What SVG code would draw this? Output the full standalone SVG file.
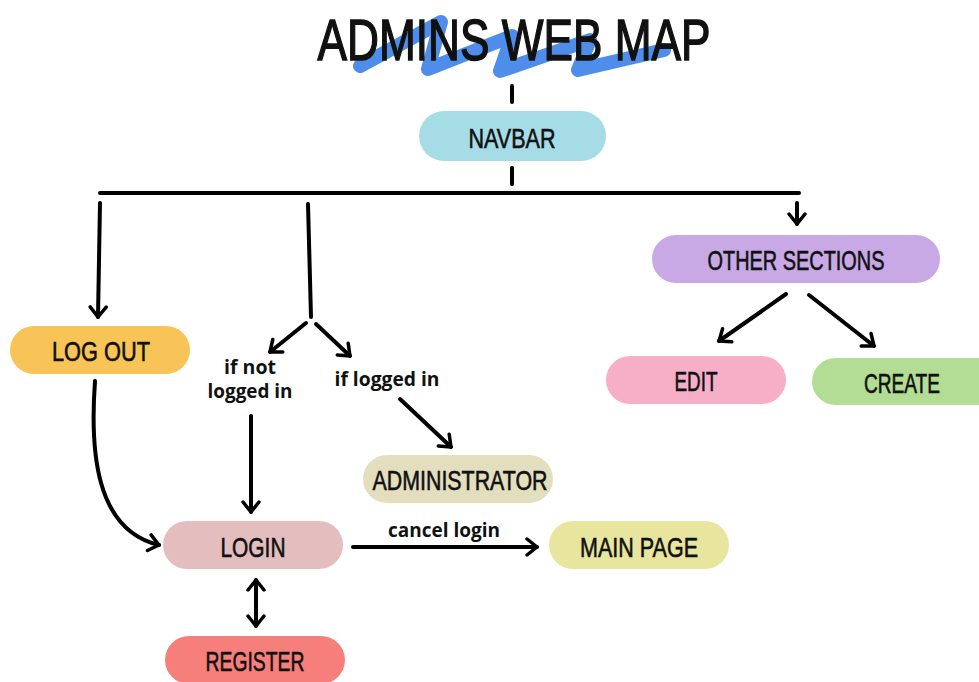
<svg xmlns="http://www.w3.org/2000/svg" width="979" height="682" viewBox="0 0 979 682">
<defs>
<marker id="ah" viewBox="-12 -10 14 20" refX="0" refY="0" markerWidth="14" markerHeight="20" markerUnits="userSpaceOnUse" orient="auto-start-reverse">
<path d="M-10,-8 L0,0 L-10,8" fill="none" stroke="#000" stroke-width="3.5" stroke-linecap="round" stroke-linejoin="round"/>
</marker>
<style>
.n{font-family:"Liberation Sans",Arial,sans-serif;font-size:28px;fill:#111;text-anchor:middle;stroke:#111;stroke-width:0.6}
.l{font-family:"Open Sans","Liberation Sans",sans-serif;font-size:19px;font-weight:700;fill:#111;text-anchor:middle}
.c{fill:none;stroke:#000;stroke-width:4;stroke-linecap:round;stroke-linejoin:round}
.a{marker-end:url(#ah)}
</style>
</defs>
<rect width="979" height="682" fill="#fff"/>
<g id="title">
<path d="M360,66 L441,22 L428,69 L512,36 L500,71 L590,40 L578,70 L664,50" fill="none" stroke="#4E8EEA" stroke-width="14" stroke-linecap="round" stroke-linejoin="round"/>
<text x="514" y="60" class="n" style="font-size:58px;stroke-width:1.5" textLength="393" lengthAdjust="spacingAndGlyphs">ADMINS WEB MAP</text>
</g>
<g id="connectors">
<line class="c" x1="512" y1="86" x2="512" y2="102"/>
<line class="c" x1="512" y1="168" x2="512" y2="184"/>
<line class="c" x1="100" y1="193" x2="799" y2="193"/>
<line class="c a" x1="100" y1="203" x2="98" y2="317"/>
<path class="c" d="M308,204 L311,317"/>
<line class="c a" x1="306" y1="323" x2="270" y2="352"/>
<line class="c a" x1="316" y1="324" x2="350" y2="356"/>
<line class="c a" x1="797" y1="203" x2="797" y2="224"/>
<line class="c a" x1="786" y1="294" x2="719" y2="341"/>
<line class="c a" x1="809" y1="295" x2="874" y2="346"/>
<line class="c a" x1="400" y1="399" x2="451" y2="447"/>
<line class="c a" x1="251" y1="416" x2="251" y2="512"/>
<path class="c a" d="M95,381 C90,450 95,530 159,545"/>
<line class="c a" x1="353" y1="547" x2="537" y2="547"/>
<line class="c" x1="256" y1="580" x2="256" y2="626" style="marker-start:url(#ah);marker-end:url(#ah)"/>
</g>
<g id="navbar"><rect x="419" y="111" width="187" height="50" rx="25" fill="#A5DCE6"/><text class="n" x="512" y="148" textLength="87" lengthAdjust="spacingAndGlyphs">NAVBAR</text></g>
<g id="other-sections"><rect x="652" y="235" width="288" height="48" rx="24" fill="#C8A9E6"/><text class="n" x="796" y="270" textLength="177" lengthAdjust="spacingAndGlyphs">OTHER SECTIONS</text></g>
<g id="edit"><rect x="606" y="356" width="180" height="48" rx="24" fill="#F6AFC7"/><text class="n" x="696" y="391" textLength="43" lengthAdjust="spacingAndGlyphs">EDIT</text></g>
<g id="create"><rect x="812" y="358" width="190" height="47" rx="23.5" fill="#B3DD94"/><text class="n" x="902" y="393" textLength="76" lengthAdjust="spacingAndGlyphs">CREATE</text></g>
<g id="log-out"><rect x="10" y="326" width="180" height="48" rx="24" fill="#F9C457"/><text class="n" x="101" y="361" textLength="98" lengthAdjust="spacingAndGlyphs">LOG OUT</text></g>
<g id="label-not-logged"><text class="l" x="250" y="374" textLength="52" lengthAdjust="spacingAndGlyphs">if not</text><text class="l" x="250" y="398" textLength="85" lengthAdjust="spacingAndGlyphs">logged in</text></g>
<g id="label-logged"><text class="l" x="387" y="386" textLength="105" lengthAdjust="spacingAndGlyphs">if logged in</text></g>
<g id="administrator"><rect x="363" y="455" width="190" height="48" rx="24" fill="#E3DFBE"/><text class="n" x="460" y="490" textLength="175" lengthAdjust="spacingAndGlyphs">ADMINISTRATOR</text></g>
<g id="login"><rect x="163" y="521" width="180" height="48" rx="24" fill="#E4BDBF"/><text class="n" x="253" y="557" textLength="65" lengthAdjust="spacingAndGlyphs">LOGIN</text></g>
<g id="label-cancel"><text class="l" x="444" y="537" textLength="112" lengthAdjust="spacingAndGlyphs">cancel login</text></g>
<g id="main-page"><rect x="549" y="521" width="180" height="48" rx="24" fill="#E8E59F"/><text class="n" x="639" y="557" textLength="118" lengthAdjust="spacingAndGlyphs">MAIN PAGE</text></g>
<g id="register"><rect x="165" y="636" width="180" height="48" rx="24" fill="#F77F7B"/><text class="n" x="255" y="671" textLength="99" lengthAdjust="spacingAndGlyphs">REGISTER</text></g>
</svg>
